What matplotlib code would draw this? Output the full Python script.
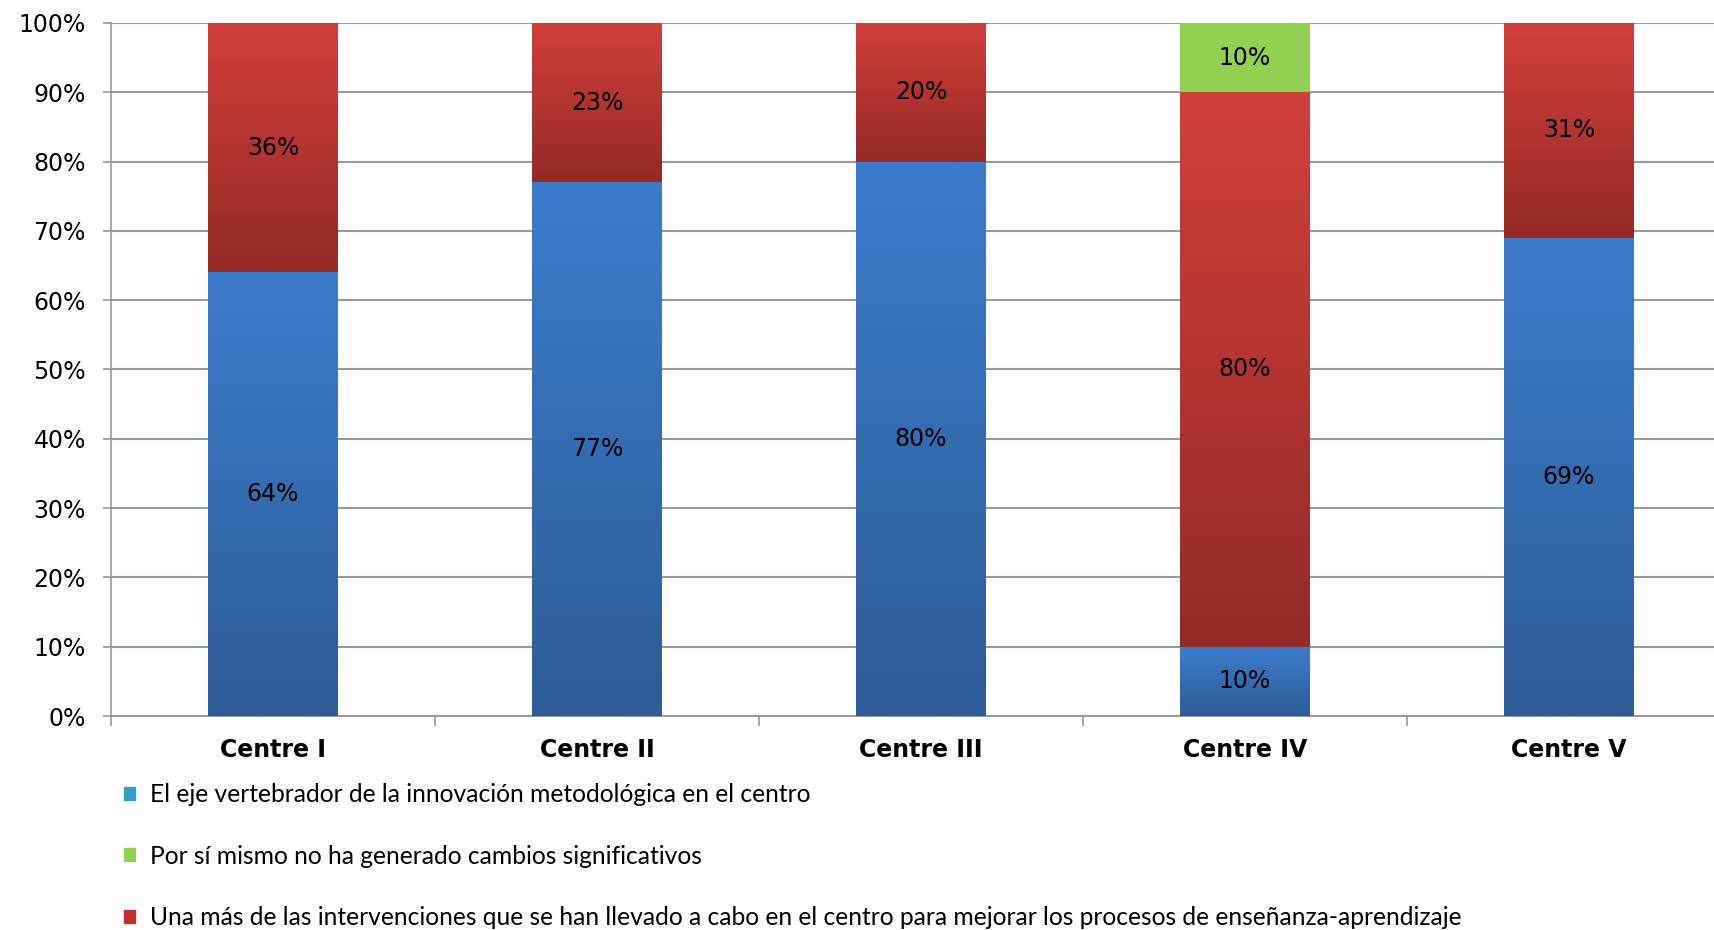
import numpy as np
import matplotlib
matplotlib.use("Agg")
import matplotlib.pyplot as plt
from matplotlib.patches import Rectangle
from matplotlib.colors import to_rgb

# datos
centres = ["Centre I", "Centre II", "Centre III", "Centre IV", "Centre V"]
eje = [64, 77, 80, 10, 69]          # azul
una_mas = [36, 23, 20, 80, 31]      # rojo
no_cambios = [0, 0, 0, 10, 0]       # verde
y_ticks = [0, 10, 20, 30, 40, 50, 60, 70, 80, 90, 100]
legend_labels = [
    "El eje vertebrador de la innovación metodológica en el centro",
    "Por sí mismo no ha generado cambios significativos",
    "Una más de las intervenciones que se han llevado a cabo en el centro para mejorar los procesos de enseñanza-aprendizaje",
]

W, H = 1715, 930
fig = plt.figure(figsize=(W / 100, H / 100), dpi=100)
ax = fig.add_axes([111 / W, 214 / H, 1620 / W, 693 / H])

grid_col = "#9a9a9a"
bar_w = 0.4


def gradient_bar(x, bottom, height, top_col, bot_col):
    # barra con degradado vertical (claro arriba, oscuro abajo)
    if height <= 0:
        return
    t = np.linspace(0, 1, 64)[:, None]
    c1 = np.array(to_rgb(top_col))
    c2 = np.array(to_rgb(bot_col))
    img = (c1 * (1 - t) + c2 * t)[:, None, :]
    ax.imshow(img, extent=(x - bar_w / 2, x + bar_w / 2, bottom, bottom + height),
              aspect="auto", origin="upper", interpolation="bilinear", zorder=3)


def flat_bar(x, bottom, height, col):
    if height <= 0:
        return
    ax.bar(x, height, bar_w, bottom=bottom, color=col, zorder=3, linewidth=0)


lbl_font = dict(fontsize=17, color="black", ha="center", va="center", zorder=5)
for i in range(len(centres)):
    b = eje[i]
    r = una_mas[i]
    g = no_cambios[i]
    gradient_bar(i, 0, b, "#3b7dcc", "#2d5c98")
    gradient_bar(i, b, r, "#d13f3b", "#952a27")
    flat_bar(i, b + r, g, "#92d050")
    ax.text(i, b / 2, f"{b}%", **lbl_font)
    ax.text(i, b + r / 2, f"{r}%", **lbl_font)
    if g > 0:
        ax.text(i, b + r + g / 2, f"{g}%", **lbl_font)

ax.set_xlim(-0.5, len(centres) - 0.5)
ax.set_ylim(0, 100)

ax.set_yticks(y_ticks)
ax.set_yticklabels([f"{v}%" for v in y_ticks], fontsize=17)
ax.yaxis.grid(True, color=grid_col, linewidth=1.5, zorder=0)
ax.set_axisbelow(True)
ax.tick_params(axis="y", length=6, width=1.2, color=grid_col, pad=12)

ax.set_xticks(range(len(centres)))
ax.set_xticklabels(centres, fontsize=17, fontweight="bold")
ax.set_xticks(np.arange(-0.5, len(centres)), minor=True)
ax.tick_params(axis="x", which="major", length=0, pad=16)
ax.tick_params(axis="x", which="minor", length=7, width=1.2, color=grid_col)

for s in ["top", "right"]:
    ax.spines[s].set_visible(False)
ax.spines["left"].set_color(grid_col)
ax.spines["left"].set_linewidth(1.2)
ax.spines["bottom"].set_color(grid_col)
ax.spines["bottom"].set_linewidth(1.5)

handles = [Rectangle((0, 0), 1, 1, color=c) for c in ["#31a0c8", "#92d050", "#c0302e"]]
fig.legend(handles, legend_labels, loc="upper left", bbox_to_anchor=(124 / W, 0.158),
           frameon=False, borderpad=0, borderaxespad=0, handlelength=0.45, handleheight=0.45,
           handletextpad=0.6, labelspacing=1.56,
           prop={"family": "Lato", "size": 17.75})

fig.savefig("out.png", dpi=100)
